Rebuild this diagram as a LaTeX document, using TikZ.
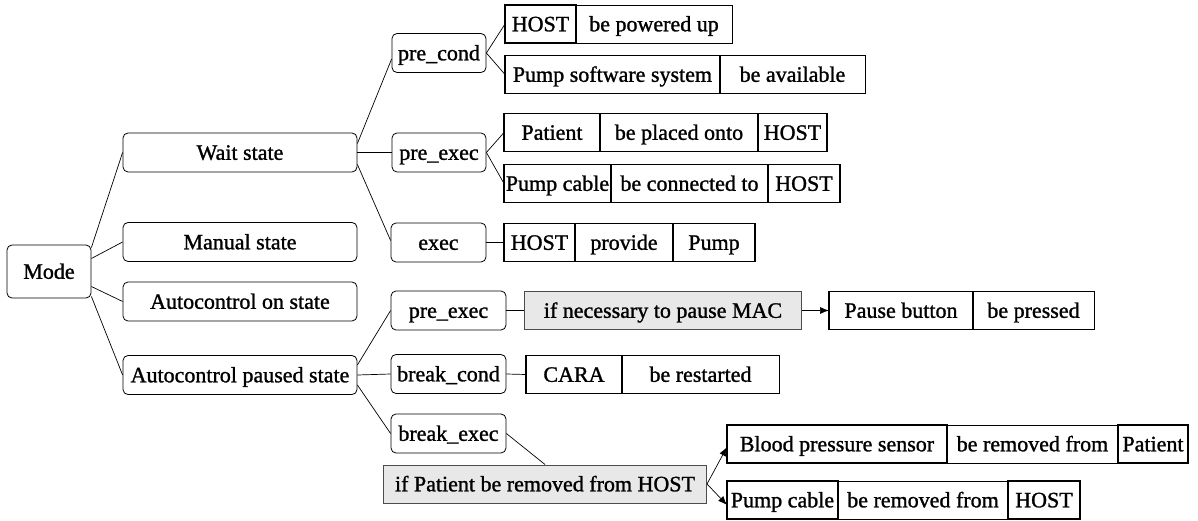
\documentclass[tikz,border=0pt]{standalone}
\usepackage{fontspec}
\setmainfont{Liberation Serif}[FakeBold=1.2]
\usetikzlibrary{arrows.meta}
\usetikzlibrary{calc,positioning}

\tikzset{
	etat/.style={draw,rounded corners=5pt,line width=0.8pt,minimum height=39pt,inner sep=0pt,text height=14.6pt,text depth=0pt},
	sujet/.style={draw,line width=1.8pt,minimum height=38pt,inner sep=0pt,outer sep=0pt,text height=14.6pt,text depth=0pt},
	verbe/.style={draw,line width=0.8pt,minimum height=38pt,inner sep=0pt,outer sep=0pt,text height=14.6pt,text depth=0pt},
	cond/.style={draw=black!70,fill=gray!18,line width=1pt,minimum height=38pt,inner sep=0pt,text height=14.6pt,text depth=0pt},
	lien/.style={line width=0.7pt},
	fleche/.style={line width=0.7pt,-{Latex[length=9pt,width=7pt]}},
}

\begin{document}
\begin{tikzpicture}[x=1pt,y=-1pt,font=\fontsize{22}{26}\selectfont]
	\useasboundingbox (0,0) rectangle (1198,521);
	% Etats
	\node [etat,minimum width=84pt,minimum height=53pt] (mode) at (49,271.5) {Mode};
	\node [etat,minimum width=234pt] (wait) at (240,152.5) {Wait state};
	\node [etat,minimum width=234pt] (manual) at (240,242) {Manual state};
	\node [etat,minimum width=234pt] (auton) at (240,301.5) {Autocontrol on state};
	\node [etat,minimum width=234pt] (autop) at (240,375) {Autocontrol paused state};
	% Roles
	\node [etat,minimum width=94pt] (precond) at (439,53) {pre\_cond};
	\node [etat,minimum width=94pt] (preexec) at (439,152.5) {pre\_exec};
	\node [etat,minimum width=95pt] (exec) at (438.5,242.5) {exec};
	\node [etat,minimum width=115pt] (preexecb) at (448.5,310.5) {pre\_exec};
	\node [etat,minimum width=115pt] (breakcond) at (448.5,374) {break\_cond};
	\node [etat,minimum width=115pt] (breakexec) at (448.5,433.5) {break\_exec};
	% Phrases
	\node [sujet,minimum width=71pt,anchor=west] (hosta) at (505,24) {HOST};
	\node [verbe,minimum width=156pt,right=0pt of hosta] (powered) {be powered up};
	\node [sujet,minimum width=215pt,anchor=west] (pss) at (505,74.5) {Pump software system};
	\node [verbe,minimum width=145pt,right=0pt of pss] (avail) {be available};
	\node [sujet,minimum width=96pt,anchor=west] (patienta) at (504,132.5) {Patient};
	\node [verbe,minimum width=158pt,right=0pt of patienta] (placed) {be placed onto};
	\node [sujet,minimum width=69pt,right=0pt of placed] (hostb) {HOST};
	\node [sujet,minimum width=107pt,anchor=west] (cablea) at (504,183.5) {Pump cable};
	\node [verbe,minimum width=157pt,right=0pt of cablea] (connected) {be connected to};
	\node [sujet,minimum width=72pt,right=0pt of connected] (hostc) {HOST};
	\node [sujet,minimum width=71pt,anchor=west] (hostd) at (504,242.5) {HOST};
	\node [verbe,minimum width=98pt,right=0pt of hostd] (provide) {provide};
	\node [sujet,minimum width=82pt,right=0pt of provide] (pump) {Pump};
	\node [cond,minimum width=277pt,anchor=west] (pausemac) at (524,310.5) {if necessary to pause MAC};
	\node [sujet,minimum width=144pt,anchor=west] (button) at (829,310.5) {Pause button};
	\node [verbe,minimum width=121pt,right=0pt of button] (pressed) {be pressed};
	\node [sujet,minimum width=96pt,anchor=west] (cara) at (526,374.5) {CARA};
	\node [verbe,minimum width=157pt,right=0pt of cara] (restarted) {be restarted};
	\node [cond,minimum width=323pt,anchor=west] (removed) at (383,484) {if Patient be removed from HOST};
	\node [sujet,minimum width=220pt,anchor=west] (sensor) at (727,444) {Blood pressure sensor};
	\node [verbe,minimum width=171pt,right=0pt of sensor] (remfroma) {be removed from};
	\node [sujet,minimum width=70pt,right=0pt of remfroma] (patientb) {Patient};
	\node [sujet,minimum width=111pt,anchor=west] (cableb) at (727,500) {Pump cable};
	\node [verbe,minimum width=170pt,right=0pt of cableb] (remfromb) {be removed from};
	\node [sujet,minimum width=72pt,right=0pt of remfromb] (hoste) {HOST};
	% Liens
	\draw [lien] ([yshift=24pt]mode.east) -- (wait.west);
	\draw [lien] ([yshift=13pt]mode.east) -- (manual.west);
	\draw [lien] ([yshift=-15pt]mode.east) -- (auton.west);
	\draw [lien] ([yshift=-25pt]mode.east) -- (autop.west);
	\draw [lien] ([yshift=9pt]wait.east) -- ([yshift=-6pt]precond.west);
	\draw [lien] (wait.east) -- (preexec.west);
	\draw [lien] ([yshift=-12pt]wait.east) -- ([yshift=2pt]exec.west);
	\draw [lien] (precond.east) -- (hosta.west);
	\draw [lien] (precond.east) -- (pss.west);
	\draw [lien] (preexec.east) -- (patienta.west);
	\draw [lien] (preexec.east) -- (cablea.west);
	\draw [lien] (exec.east) -- (hostd.west);
	\draw [lien] ([yshift=10pt]autop.east) -- (preexecb.west);
	\draw [lien] (autop.east) -- (breakcond.west);
	\draw [lien] ([yshift=-10pt]autop.east) -- (breakexec.west);
	\draw [lien] (preexecb.east) -- (pausemac.west);
	\draw [lien] (breakcond.east) -- (cara.west);
	\draw [lien] (breakexec.east) -- (removed.north);
	% Flèches
	\draw [fleche] (pausemac.east) -- (button.west);
	\draw [fleche] (removed.east) -- ([yshift=-3pt]sensor.west);
	\draw [fleche] (removed.east) -- ([yshift=-5pt]cableb.west);
\end{tikzpicture}
\end{document}
